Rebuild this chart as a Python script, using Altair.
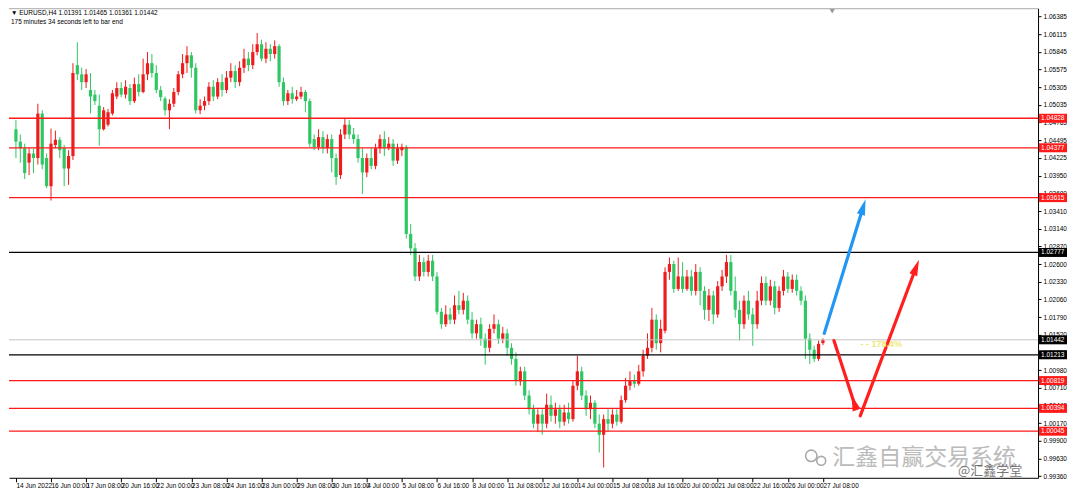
import json
import altair as alt
import pandas as pd

# ---------------- data ----------------
opens = [
    1.0466, 1.0447, 1.0437, 1.0415, 1.0429, 1.0422, 1.0490, 1.0422, 1.0379, 1.0442,
    1.0450, 1.0437, 1.0406, 1.0425, 1.0564, 1.0550, 1.0538, 1.0526, 1.0519, 1.0502,
    1.0466, 1.0473, 1.0490, 1.0516, 1.0529, 1.0519, 1.0529, 1.0509, 1.0535, 1.0523,
    1.0550, 1.0567, 1.0552, 1.0526, 1.0513, 1.0495, 1.0505, 1.0523, 1.0550, 1.0567,
    1.0579, 1.0560, 1.0495, 1.0502, 1.0509, 1.0531, 1.0516, 1.0538, 1.0526, 1.0545,
    1.0555, 1.0538, 1.0560, 1.0574, 1.0564, 1.0584, 1.0596, 1.0574, 1.0589, 1.0581,
    1.0593, 1.0538, 1.0509, 1.0521, 1.0512, 1.0516, 1.0523, 1.0509, 1.0451, 1.0439,
    1.0454, 1.0437, 1.0451, 1.0422, 1.0396, 1.0458, 1.0473, 1.0458, 1.0451, 1.0422,
    1.0400, 1.0422, 1.0410, 1.0437, 1.0451, 1.0437, 1.0444, 1.0418, 1.0434, 1.0439,
    1.0306, 1.0284, 1.0241, 1.0263, 1.0248, 1.0265, 1.0241, 1.0187, 1.0168, 1.0183,
    1.0175, 1.0197, 1.0190, 1.0204, 1.0175, 1.0154, 1.0168, 1.0146, 1.0132, 1.0161,
    1.0168, 1.0146, 1.0154, 1.0132, 1.0115, 1.0081, 1.0096, 1.0059, 1.0038, 1.0016,
    1.0030, 1.0016, 1.0045, 1.0028, 1.0038, 1.0019, 1.0033, 1.0023, 1.0074, 1.0096,
    1.0059, 1.0038, 1.0048, 1.0016, 0.9999, 1.0023, 1.0016, 1.0030, 1.0019, 1.0052,
    1.0074, 1.0081, 1.0077, 1.0096, 1.0120, 1.0132, 1.0175, 1.0139, 1.0158, 1.0248,
    1.0260, 1.0222, 1.0241, 1.0222, 1.0241, 1.0219, 1.0248, 1.0219, 1.0190, 1.0212,
    1.0183, 1.0226, 1.0241, 1.0263, 1.0219, 1.0190, 1.0168, 1.0204, 1.0183, 1.0168,
    1.0204, 1.0231, 1.0204, 1.0226, 1.0193, 1.0219, 1.0241, 1.0222, 1.0236, 1.0219,
    1.0204, 1.0146, 1.0129, 1.0115, 1.01391,
]
highs = [
    1.0480, 1.0458, 1.0444, 1.0437, 1.0437, 1.0505, 1.0495, 1.0429, 1.0467, 1.0464,
    1.0454, 1.0442, 1.0434, 1.0567, 1.0599, 1.0560, 1.0558, 1.0552, 1.0526, 1.0519,
    1.0500, 1.0497, 1.0526, 1.0538, 1.0538, 1.0541, 1.0535, 1.0545, 1.0550, 1.0574,
    1.0584, 1.0581, 1.0564, 1.0532, 1.0516, 1.0512, 1.0529, 1.0555, 1.0581, 1.0593,
    1.0584, 1.0567, 1.0512, 1.0516, 1.0538, 1.0541, 1.0544, 1.0550, 1.0555, 1.0567,
    1.0564, 1.0570, 1.0589, 1.0584, 1.0596, 1.0613, 1.0603, 1.0599, 1.0596, 1.0602,
    1.0596, 1.0545, 1.0526, 1.0531, 1.0526, 1.0531, 1.0526, 1.0513, 1.0458, 1.0466,
    1.0463, 1.0458, 1.0458, 1.0429, 1.0466, 1.0483, 1.0480, 1.0468, 1.0458, 1.0437,
    1.0429, 1.0437, 1.0444, 1.0458, 1.0463, 1.0454, 1.0451, 1.0444, 1.0444, 1.0442,
    1.0321, 1.0292, 1.0274, 1.0270, 1.0274, 1.0274, 1.0248, 1.0193, 1.0197, 1.0193,
    1.0212, 1.0219, 1.0216, 1.0212, 1.0187, 1.0175, 1.0178, 1.0154, 1.0168, 1.0183,
    1.0175, 1.0164, 1.0161, 1.0139, 1.0125, 1.0103, 1.0103, 1.0067, 1.0045, 1.0038,
    1.0038, 1.0062, 1.0059, 1.0048, 1.0045, 1.0045, 1.0048, 1.0081, 1.0120, 1.0103,
    1.0067, 1.0059, 1.0052, 1.0030, 1.0030, 1.0038, 1.0038, 1.0038, 1.0059, 1.0086,
    1.0096, 1.0091, 1.0106, 1.0129, 1.0154, 1.0193, 1.0183, 1.0175, 1.0255, 1.0270,
    1.0265, 1.0270, 1.0263, 1.0251, 1.0251, 1.0260, 1.0255, 1.0226, 1.0222, 1.0219,
    1.0234, 1.0251, 1.0274, 1.0274, 1.0241, 1.0204, 1.0212, 1.0219, 1.0193, 1.0219,
    1.0241, 1.0241, 1.0236, 1.0234, 1.0226, 1.0251, 1.0248, 1.0244, 1.0244, 1.0226,
    1.0212, 1.0154, 1.0135, 1.0143, 1.01465,
]
lows = [
    1.0422, 1.0415, 1.0390, 1.0396, 1.0399, 1.0412, 1.0405, 1.0376, 1.0357, 1.0437,
    1.0422, 1.0379, 1.0381, 1.0419, 1.0541, 1.0526, 1.0529, 1.0490, 1.0503, 1.0441,
    1.0464, 1.0470, 1.0487, 1.0512, 1.0515, 1.0513, 1.0503, 1.0506, 1.0516, 1.0521,
    1.0541, 1.0545, 1.0521, 1.0509, 1.0487, 1.0466, 1.0500, 1.0518, 1.0544, 1.0552,
    1.0545, 1.0490, 1.0489, 1.0495, 1.0503, 1.0509, 1.0512, 1.0516, 1.0521, 1.0538,
    1.0529, 1.0532, 1.0552, 1.0555, 1.0558, 1.0579, 1.0570, 1.0567, 1.0570, 1.0574,
    1.0531, 1.0502, 1.0503, 1.0505, 1.0509, 1.0512, 1.0492, 1.0439, 1.0434, 1.0434,
    1.0429, 1.0429, 1.0400, 1.0381, 1.0390, 1.0451, 1.0451, 1.0444, 1.0415, 1.0367,
    1.0393, 1.0405, 1.0405, 1.0429, 1.0425, 1.0434, 1.0410, 1.0413, 1.0425, 1.0299,
    1.0274, 1.0234, 1.0234, 1.0241, 1.0241, 1.0234, 1.0183, 1.0161, 1.0164, 1.0168,
    1.0168, 1.0183, 1.0183, 1.0168, 1.0146, 1.0146, 1.0135, 1.0106, 1.0125, 1.0154,
    1.0138, 1.0139, 1.0120, 1.0106, 1.0074, 1.0074, 1.0052, 1.0030, 1.0009, 1.0004,
    0.9999, 1.0009, 1.0019, 1.0016, 1.0009, 1.0013, 1.0016, 1.0019, 1.0067, 1.0052,
    1.0028, 1.0023, 1.0009, 0.9972, 0.9949, 1.0004, 1.0009, 1.0013, 1.0016, 1.0048,
    1.0067, 1.0071, 1.0074, 1.0088, 1.0115, 1.0125, 1.0129, 1.0125, 1.0154, 1.0236,
    1.0216, 1.0219, 1.0216, 1.0219, 1.0212, 1.0212, 1.0197, 1.0175, 1.0173, 1.0168,
    1.0178, 1.0219, 1.0231, 1.0212, 1.0178, 1.0143, 1.0161, 1.0175, 1.0135, 1.0161,
    1.0197, 1.0197, 1.0197, 1.0183, 1.0187, 1.0212, 1.0216, 1.0216, 1.0212, 1.0197,
    1.0115, 1.0107, 1.0110, 1.0112, 1.01361,
]
closes = [
    1.0447, 1.0437, 1.0399, 1.0429, 1.0422, 1.0490, 1.0412, 1.0379, 1.0444, 1.0450,
    1.0434, 1.0406, 1.0425, 1.0552, 1.0550, 1.0538, 1.0550, 1.0516, 1.0509, 1.0466,
    1.0495, 1.0492, 1.0521, 1.0529, 1.0519, 1.0531, 1.0509, 1.0535, 1.0523, 1.0550,
    1.0567, 1.0552, 1.0526, 1.0515, 1.0495, 1.0505, 1.0523, 1.0550, 1.0567, 1.0579,
    1.0560, 1.0495, 1.0502, 1.0509, 1.0531, 1.0516, 1.0538, 1.0526, 1.0545, 1.0555,
    1.0538, 1.0560, 1.0574, 1.0564, 1.0584, 1.0596, 1.0574, 1.0589, 1.0581, 1.0593,
    1.0538, 1.0509, 1.0521, 1.0512, 1.0516, 1.0523, 1.0509, 1.0444, 1.0439, 1.0454,
    1.0437, 1.0451, 1.0422, 1.0393, 1.0458, 1.0473, 1.0458, 1.0451, 1.0422, 1.0400,
    1.0422, 1.0410, 1.0437, 1.0451, 1.0437, 1.0444, 1.0418, 1.0437, 1.0439, 1.0306,
    1.0284, 1.0241, 1.0263, 1.0248, 1.0265, 1.0241, 1.0187, 1.0168, 1.0183, 1.0175,
    1.0197, 1.0190, 1.0204, 1.0175, 1.0154, 1.0168, 1.0146, 1.0132, 1.0161, 1.0168,
    1.0146, 1.0154, 1.0132, 1.0115, 1.0081, 1.0096, 1.0059, 1.0038, 1.0016, 1.0030,
    1.0016, 1.0045, 1.0028, 1.0038, 1.0019, 1.0033, 1.0023, 1.0074, 1.0096, 1.0059,
    1.0038, 1.0048, 1.0016, 0.9999, 1.0023, 1.0016, 1.0030, 1.0019, 1.0052, 1.0074,
    1.0081, 1.0077, 1.0096, 1.0120, 1.0132, 1.0175, 1.0139, 1.0161, 1.0248, 1.0260,
    1.0222, 1.0241, 1.0222, 1.0241, 1.0219, 1.0248, 1.0219, 1.0190, 1.0212, 1.0183,
    1.0226, 1.0241, 1.0263, 1.0219, 1.0190, 1.0168, 1.0204, 1.0183, 1.0168, 1.0204,
    1.0231, 1.0204, 1.0226, 1.0193, 1.0219, 1.0241, 1.0222, 1.0236, 1.0219, 1.0204,
    1.0146, 1.0129, 1.0115, 1.0138, 1.01442,
]

time_labels = [
    "14 Jun 2022", "16 Jun 00:00", "17 Jun 08:00", "20 Jun 16:00", "22 Jun 00:00",
    "23 Jun 08:00", "24 Jun 16:00", "28 Jun 00:00", "29 Jun 08:00", "30 Jun 16:00",
    "4 Jul 00:00", "5 Jul 08:00", "6 Jul 16:00", "8 Jul 00:00", "11 Jul 08:00",
    "12 Jul 16:00", "14 Jul 00:00", "15 Jul 08:00", "18 Jul 16:00", "20 Jul 00:00",
    "21 Jul 08:00", "22 Jul 16:00", "26 Jul 00:00", "27 Jul 08:00",
]
bars_per_label = 8

price_ticks = [
    1.06385, 1.06115, 1.05845, 1.05575, 1.05305, 1.05035, 1.04765, 1.04495, 1.04225,
    1.03950, 1.03680, 1.03410, 1.03140, 1.02870, 1.02600, 1.02330, 1.02060, 1.01790,
    1.01520, 1.01250, 1.00980, 1.00710, 1.00440, 1.00170, 0.99900, 0.99630, 0.99360,
]

level_prices = [1.04828, 1.04377, 1.03615, 1.02777, 1.01442, 1.01213, 1.00819, 1.00394, 1.00045]
level_kinds = ["red", "red", "red", "black", "current", "black", "red", "red", "red"]

arrow_x0 = [184.3, 186.5, 192.5]
arrow_p0 = [1.0154, 1.0143, 1.0028]
arrow_x1 = [192.9, 191.4, 204.9]
arrow_p1 = [1.0341, 1.0042, 1.0249]
arrow_kinds = ["blue", "red", "red"]

header_line1 = "\u25bc EURUSD,H4  1.01391 1.01465 1.01361 1.01442"
header_line2 = "175 minutes 34 seconds left to bar end"
note_text = "- - 178.4%"
watermark_main = "汇鑫自赢交易系统"
watermark_sub = "@汇鑫学堂"

# ---------------- styling ----------------
W, H = 1030, 470
XDOM = [-0.44, 231.9]
YDOM = [0.99333, 1.06510]
FONT = "Liberation Sans"
UP, DOWN = "#ee1c1c", "#2fc764"
LINE_COL = {"red": "#ff1a1a", "black": "#000000", "current": "#c4c4c4"}
BOX_COL = {"red": "#ff1a1a", "black": "#000000", "current": "#000000"}
ARROW_COL = {"blue": "#2196f3", "red": "#ff1f1f"}
ARROW_ANGLE = [17, 341, 21]

xs = alt.Scale(domain=XDOM, nice=False, zero=False)
ys = alt.Scale(domain=YDOM, nice=False, zero=False)

x_axis = alt.Axis(
    values=[bars_per_label * k for k in range(len(time_labels))],
    labelExpr=json.dumps(time_labels) + "[round(datum.value / %d)]" % bars_per_label,
    labelAlign="left", labelBaseline="top", labelPadding=1, labelFontSize=6.5,
    labelFont=FONT, labelColor="#000000", tickSize=4, tickColor="#000000",
    domainColor="#000000", grid=False, title=None, labelOverlap=False,
    labelFlush=False, labelBound=False,
)
y_axis = alt.Axis(
    orient="right", values=price_ticks, format=".5f", labelFontSize=6.5,
    labelFont=FONT, labelColor="#000000", tickSize=3, tickColor="#000000",
    labelPadding=2, domainColor="#000000", grid=False, title=None,
    labelOverlap=False, labelFlush=False, labelBound=False,
)


def X(f):
    return alt.X(f, type="quantitative", scale=xs, axis=x_axis)


def Y(f):
    return alt.Y(f, type="quantitative", scale=ys, axis=y_axis)


candles = pd.DataFrame({"i": list(range(len(closes))), "open": opens, "high": highs,
                        "low": lows, "close": closes})
candles["col"] = [UP if c >= o else DOWN for o, c in zip(opens, closes)]

levels = pd.DataFrame({"price": level_prices, "kind": level_kinds})
levels["col"] = [LINE_COL[k] for k in level_kinds]
levels["box"] = [BOX_COL[k] for k in level_kinds]
levels["w"] = [1.0 if k == "current" else 1.3 for k in level_kinds]

arrows = pd.DataFrame({"x0": arrow_x0, "p0": arrow_p0, "x1": arrow_x1, "p1": arrow_p1,
                       "kind": arrow_kinds})
arrows["col"] = [ARROW_COL[k] for k in arrow_kinds]
arrows["angle"] = ARROW_ANGLE

col_enc = alt.Color("col:N", scale=None, legend=None)

wicks = alt.Chart(candles).mark_rule(strokeWidth=1).encode(
    x=X("i"), y=Y("low"), y2="high", color=col_enc)
bodies = alt.Chart(candles).mark_bar(width=3.2).encode(
    x=X("i"), y=Y("open"), y2="close", color=col_enc)

level_lines = alt.Chart(levels).mark_rule().encode(
    y=Y("price"), color=col_enc,
    strokeWidth=alt.StrokeWidth("w:Q", scale=None, legend=None))
level_boxes = alt.Chart(levels).mark_rule(strokeWidth=9, strokeCap="butt").encode(
    x=alt.value(W + 1), x2=alt.value(W + 29), y=Y("price"),
    color=alt.Color("box:N", scale=None, legend=None))
level_text = alt.Chart(levels).mark_text(
    align="left", baseline="middle", color="#ffffff", fontSize=6.5, font=FONT).encode(
    x=alt.value(W + 3), y=Y("price"), text=alt.Text("price:Q", format=".5f"))

arrow_lines = alt.Chart(arrows).mark_rule(strokeWidth=3.2, strokeCap="round").encode(
    x=X("x0"), x2="x1", y=Y("p0"), y2="p1", color=col_enc)
ARROW_PATH = "M0,-1 L0.34,0.3 L-0.34,0.3 Z"
arrow_heads = alt.Chart(arrows).mark_point(
    shape=ARROW_PATH, filled=True, size=600, opacity=1, strokeWidth=0).encode(
    x=X("x1"), y=Y("p1"), color=col_enc,
    angle=alt.Angle("angle:Q", scale=None))


def text_layer(txt, px, py, **kw):
    return alt.Chart(pd.DataFrame({"t": [txt]})).mark_text(**kw).encode(
        x=alt.value(px), y=alt.value(py), text="t:N")


def dot_layer(px, py, **kw):
    return alt.Chart(pd.DataFrame({"t": [0]})).mark_point(**kw).encode(
        x=alt.value(px), y=alt.value(py))


hdr1 = text_layer(header_line1, 2, 5, align="left", baseline="middle",
                  fontSize=6.5, font=FONT, color="#000000")
hdr2 = text_layer(header_line2, 2, 14, align="left", baseline="middle",
                  fontSize=6.5, font=FONT, color="#000000")
note = text_layer(note_text, 873, 336, align="center", baseline="middle",
                  fontSize=9, font=FONT, fontWeight="bold", color="#eeea72")
wm1 = text_layer(watermark_main, 916, 450, align="center", baseline="middle",
                 fontSize=23, font="Noto Sans CJK SC", color="#b4b4b4", opacity=0.9)
wm2 = text_layer(watermark_sub, 982, 463, align="center", baseline="middle",
                 fontSize=13, font="Noto Sans CJK SC", color="#555555", opacity=0.8)

top_border = alt.Chart(pd.DataFrame({"t": [0]})).mark_rule(
    color="#a8a8a8", strokeWidth=1).encode(x=alt.value(0), x2=alt.value(W), y=alt.value(0.5))
shift_marker = dot_layer(824, 3, shape="triangle-down", filled=True, size=28,
                         color="#9a9a9a", opacity=1)
wechat1 = dot_layer(803, 448, shape="circle", filled=False, size=130,
                    color="#aaaaaa", strokeWidth=1.6, opacity=1)
wechat2 = dot_layer(813, 453, shape="circle", filled=False, size=80,
                    color="#aaaaaa", strokeWidth=1.6, opacity=1)

chart = alt.layer(
    wicks, bodies, level_lines, level_boxes, level_text,
    arrow_lines, arrow_heads, hdr1, hdr2, note, wm1, wm2,
    top_border, shift_marker, wechat1, wechat2,
).properties(
    width=W, height=H, padding=0, background="#ffffff"
).configure_view(stroke=None)

chart.save("out.html", embed_options={"renderer": "svg", "actions": False})
